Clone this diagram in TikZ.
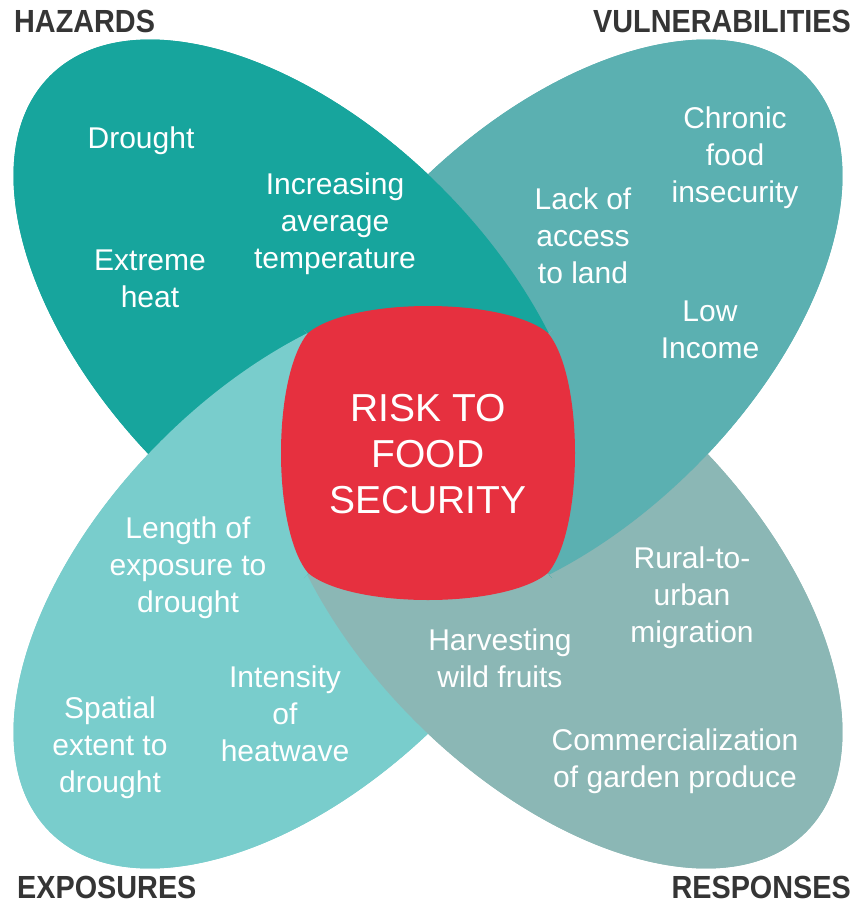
\documentclass[tikz,border=0pt]{standalone}
\usepackage{fontspec}
\setmainfont{Liberation Sans}
\newfontfamily\labelfont[FakeStretch=0.9]{Liberation Sans Bold}
\definecolor{hcol}{HTML}{17A59D}
\definecolor{vcol}{HTML}{5BB0B1}
\definecolor{ecol}{HTML}{79CDCC}
\definecolor{rcol}{HTML}{8BB7B5}
\definecolor{riskred}{HTML}{E6303F}
\definecolor{labelgray}{HTML}{353535}
\newcommand\petalH{\fill[hcol] (301,327) circle[x radius=355pt, y radius=198pt, rotate=-45];}
\newcommand\petalV{\fill[vcol] (555,327) circle[x radius=355pt, y radius=198pt, rotate=45];}
\newcommand\petalE{\fill[ecol] (301,581) circle[x radius=355pt, y radius=198pt, rotate=45];}
\newcommand\petalR{\fill[rcol] (555,581) circle[x radius=355pt, y radius=198pt, rotate=-45];}
\begin{document}
\begin{tikzpicture}[x=1pt,y=-1pt,
  petaltext/.style={text=white, align=center, inner sep=0pt, font=\fontsize{30}{37}\selectfont},
  risktext/.style={text=white, align=center, inner sep=0pt, font=\fontsize{39}{46}\selectfont},
  cornerlabel/.style={text=labelgray, inner sep=0pt, font=\labelfont\fontsize{32}{38}\selectfont}]
\useasboundingbox (0,0) rectangle (857,905);
\fill[white] (0,0) rectangle (857,905);
% base layer
\petalR \petalV \petalH \petalE
% top sector: H over V
\begin{scope}
  \clip (428,454) -- (-600,-574) -- (1456,-574) -- cycle;
  \petalR \petalE \petalV \petalH
\end{scope}
% right sector: V over R
\begin{scope}
  \clip (428,454) -- (1456,-574) -- (1456,1482) -- cycle;
  \petalH \petalE \petalR \petalV
\end{scope}
% bottom sector: R over E
\begin{scope}
  \clip (428,454) -- (1456,1482) -- (-600,1482) -- cycle;
  \petalH \petalV \petalE \petalR
\end{scope}
% left sector: E over H
\begin{scope}
  \clip (428,454) -- (-600,1482) -- (-600,-574) -- cycle;
  \petalV \petalR \petalH \petalE
\end{scope}
% centre
\fill[riskred] (308,333) .. controls (352,297) and (504,297) .. (548,333)
  .. controls (584,377) and (584,529) .. (548,573)
  .. controls (504,609) and (352,609) .. (308,573)
  .. controls (272,529) and (272,377) .. (308,333) -- cycle;
\node[risktext] (risk) at (428,454) {RISK TO\\FOOD\\SECURITY};
% corner labels
\node[cornerlabel, anchor=west] (hazards) at (14,21) {HAZARDS};
\node[cornerlabel, anchor=east] (vulner) at (851,21) {VULNERABILITIES};
\node[cornerlabel, anchor=west] (expos) at (17,887) {EXPOSURES};
\node[cornerlabel, anchor=east] (respon) at (851,887) {RESPONSES};
% hazards
\node[petaltext] (drought) at (141,141) {Drought};
\node[petaltext] (heat) at (150,279) {Extreme\\heat};
\node[petaltext] (temp) at (335,224) {Increasing\\average\\temperature};
% vulnerabilities
\node[petaltext] (chronic) at (735,158) {Chronic\\food\\insecurity};
\node[petaltext] (land) at (583,236) {Lack of\\access\\to land};
\node[petaltext] (income) at (710,330) {Low\\Income};
% exposures
\node[petaltext] (length) at (188,568) {Length of\\exposure to\\drought};
\node[petaltext] (intens) at (285,714) {Intensity\\of\\heatwave};
\node[petaltext] (spatial) at (110,748) {Spatial\\extent to\\drought};
% responses
\node[petaltext] (harvest) at (500,658) {Harvesting\\wild fruits};
\node[petaltext] (rural) at (692,598) {Rural-to-\\urban\\migration};
\node[petaltext] (commerce) at (675,761) {Commercialization\\of garden produce};
\end{tikzpicture}
\end{document}
